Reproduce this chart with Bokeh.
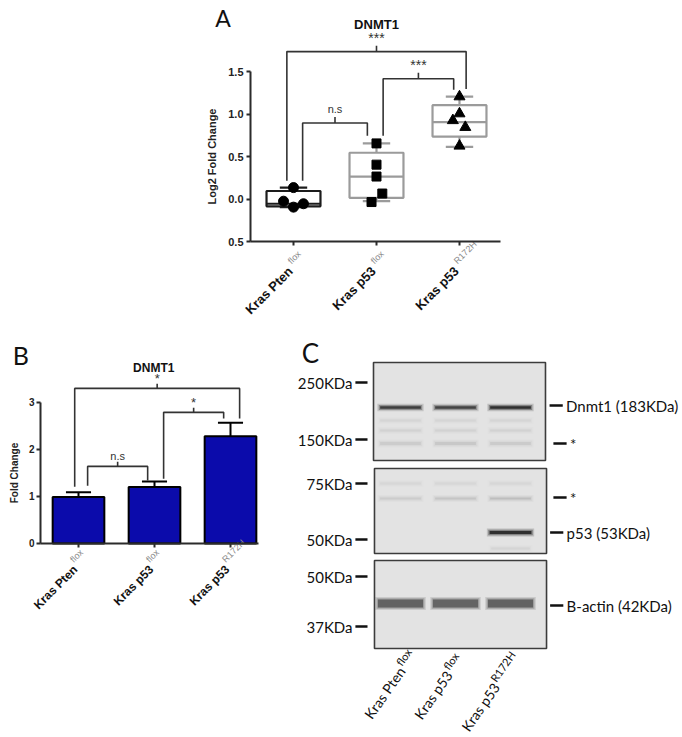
import math
from bokeh.plotting import figure
from bokeh.models import Range1d, FixedTicker, Spacer, LinearAxis, Grid
from bokeh.layouts import row, column
from bokeh.embed import file_html
from bokeh.resources import INLINE
from bokeh.core.properties import value

# ---------------- data ----------------
categories = ["Kras Pten", "Kras p53", "Kras p53"]
genotype_sup = ["flox", "flox", "R172H"]

# Panel A : Log2 fold change box plot
a_q1 = [-0.08, 0.02, 0.74]
a_median = [-0.05, 0.27, 0.91]
a_q3 = [0.10, 0.55, 1.11]
a_whisk_lo = [-0.09, -0.02, 0.62]
a_whisk_hi = [0.14, 0.66, 1.21]
a_points_pten = [0.14, -0.02, -0.09, -0.05]
a_points_p53flox = [0.66, 0.41, 0.27, 0.07, -0.03]
a_points_r172h = [1.21, 1.01, 0.93, 0.85, 0.63]
a_yticks = [-0.5, 0.0, 0.5, 1.0, 1.5]
a_ytick_labels = ["0.5", "0.0", "0.5", "1.0", "1.5"]
a_sig_labels = ["***", "n.s", "***"]
a_sig_from = [0, 0, 1]
a_sig_to = [2, 1, 2]
a_sig_height = [1.74, 0.90, 1.42]
a_sig_drop_left = [0.22, 0.22, 0.75]
a_sig_drop_right = [1.30, 0.75, 1.29]

# Panel B : fold change bar chart
b_mean = [0.99, 1.20, 2.28]
b_sem = [0.10, 0.12, 0.29]
b_yticks = [0, 1, 2, 3]
b_sig_labels = ["*", "*", "n.s"]
b_sig_from = [0, 1, 0]
b_sig_to = [2, 2, 1]
b_sig_height = [3.30, 2.79, 1.64]
b_sig_drop_left = [1.21, 1.38, 1.23]
b_sig_drop_right = [2.66, 2.66, 1.34]

# Panel C : western blot
lanes = [1, 2, 3]
marker_labels = ["250KDa", "150KDa", "75KDa", "50KDa", "50KDa", "37KDa"]
band_labels = ["Dnmt1 (183KDa)", "*", "*", "p53 (53KDa)", "B-actin (42KDa)"]
dnmt1_intensity = [0.85, 0.80, 0.97]
faint1_intensity = [0.05, 0.05, 0.05]
faint2_intensity = [0.06, 0.06, 0.06]
nonspec1_intensity = [0.08, 0.10, 0.09]
faint3_intensity = [0.04, 0.04, 0.04]
nonspec2_intensity = [0.08, 0.11, 0.14]
p53_intensity = [0.0, 0.0, 0.97]
p53_low_intensity = [0.0, 0.0, 0.05]
actin_intensity = [0.80, 0.78, 0.80]

# ---------------- styles / layout ----------------
ARIAL = "Liberation Sans"
CAL = "Lato"
AXC = "#2b2b2b"


def make_axis(loc, bounds, ticks, size, overrides=None, label=None, standoff=3, label_standoff=7):
    ax = LinearAxis(fixed_location=loc, bounds=bounds, ticker=FixedTicker(ticks=ticks))
    ax.axis_line_width = 2
    ax.axis_line_color = AXC
    ax.major_tick_line_width = 2
    ax.major_tick_line_color = AXC
    ax.major_tick_in = 0
    ax.major_tick_out = 4
    ax.minor_tick_line_color = None
    ax.major_label_text_font = ARIAL
    ax.major_label_text_font_style = "bold"
    ax.major_label_text_font_size = size
    ax.major_label_text_color = "#222"
    ax.major_label_standoff = standoff
    if overrides is not None:
        ax.major_label_overrides = overrides
    if label is not None:
        ax.axis_label = label
        ax.axis_label_text_font = ARIAL
        ax.axis_label_text_font_style = "bold"
        ax.axis_label_text_font_size = size
        ax.axis_label_text_color = "#222"
        ax.axis_label_standoff = label_standoff
    return ax


def base_fig(w, h, xr, yr):
    p = figure(width=w, height=h, x_range=Range1d(*xr), y_range=Range1d(*yr),
               output_backend="svg", toolbar_location=None, min_border=0,
               x_axis_location=None, y_axis_location=None)
    p.outline_line_color = None
    for r in list(p.center):
        if isinstance(r, Grid):
            r.visible = False
    return p


def brackets(p, frm, to, h, dl, dr, labels, inset_l, inset_r, tick, lab_off, sizes):
    xs, ys, cx, cy = [], [], [], []
    for i in range(len(frm)):
        xl = frm[i] + inset_l[i]
        xr = to[i] + inset_r[i]
        xs.append([xl, xl, xr, xr])
        ys.append([dl[i], h[i], h[i], dr[i]])
        c = (xl + xr) / 2
        xs.append([c, c])
        ys.append([h[i], h[i] + tick])
        cx.append(c)
        cy.append(h[i] + lab_off)
    p.multi_line(xs, ys, line_color="#333", line_width=1.6)
    p.text(x=cx, y=cy, text=labels, text_align="center", text_baseline="middle",
           text_font=value(ARIAL), text_font_size=sizes, text_color="#333")


idx = [0, 1, 2]

# ================= Panel A =================
pA = base_fig(330, 335, (-1.3614, 2.6145), (-1.6, 2.341))
pA.add_layout(make_axis(-0.518, (-0.5, 1.5), a_yticks, "11px",
                        overrides={t: l for t, l in zip(a_yticks, a_ytick_labels)},
                        label="Log2 Fold Change", standoff=3, label_standoff=7), "left")
pA.add_layout(make_axis(-0.5, (-0.518, 2.494), idx, "11px",
                        overrides={0: " ", 1: " ", 2: " "}), "below")

box_w = 0.65
cap_w = 0.33
box_colors = ["#1c1c1c", "#9b9b9b", "#9b9b9b"]
pA.quad(left=[i - box_w / 2 for i in idx], right=[i + box_w / 2 for i in idx],
        bottom=a_q1, top=a_q3, fill_color=None, line_color=box_colors, line_width=2.2)
pA.segment(x0=[i - box_w / 2 for i in idx], x1=[i + box_w / 2 for i in idx],
           y0=a_median, y1=a_median, line_color=box_colors, line_width=2.2)
pA.segment(x0=idx, x1=idx, y0=a_q3, y1=a_whisk_hi, line_color=box_colors, line_width=2.2)
pA.segment(x0=idx, x1=idx, y0=a_q1, y1=a_whisk_lo, line_color=box_colors, line_width=2.2)
pA.segment(x0=[i - cap_w / 2 for i in idx], x1=[i + cap_w / 2 for i in idx],
           y0=a_whisk_hi, y1=a_whisk_hi, line_color=box_colors, line_width=2.2)
pA.segment(x0=[i - cap_w / 2 for i in idx], x1=[i + cap_w / 2 for i in idx],
           y0=a_whisk_lo, y1=a_whisk_lo, line_color=box_colors, line_width=2.2)

jit_pten = [0.0, -0.12, 0.0, 0.12]
jit_flox = [0.0, 0.0, 0.0, 0.07, -0.06]
jit_r172 = [0.0, 0.0, -0.08, 0.07, 0.0]
pA.scatter([0 + j for j in jit_pten], a_points_pten, marker="circle", size=10, color="black")
pA.scatter([1 + j for j in jit_flox], a_points_p53flox, marker="square", size=9, color="black")
pA.scatter([2 + j for j in jit_r172], a_points_r172h, marker="triangle", size=11, color="black")

brackets(pA, a_sig_from, a_sig_to, a_sig_height, a_sig_drop_left, a_sig_drop_right,
         a_sig_labels, [-0.08, 0.11, 0.08], [0.08, -0.11, -0.07], 0.07, 0.16,
         ["14px", "11px", "14px"])

pA.text(x=[1.0], y=[2.06], text=["DNMT1"], text_align="center", text_baseline="middle",
        text_font=value(ARIAL), text_font_style="bold", text_font_size="13px", text_color="#111")
pA.text(x=[-0.85], y=[2.14], text=["A"], text_align="center", text_baseline="middle",
        text_font=value(CAL), text_font_size="23px", text_color="#111")

pA.text(x=[i - 0.036 for i in idx], y=[-0.818] * 3, text=categories, angle=math.pi / 4,
        text_align="right", text_baseline="middle", text_font=value(ARIAL),
        text_font_style="bold", text_font_size="13px", text_color="#111")
pA.text(x=[i - 0.05 for i in idx], y=[-0.74] * 3, text=genotype_sup, angle=math.pi / 4,
        text_align="left", text_baseline="middle", text_font=value(ARIAL),
        text_font_size="9px", text_color="#8a8a8a")

# ================= Panel B =================
pB = base_fig(270, 402, (-1.0263, 2.5263), (-4.1277, 4.4255))
pB.add_layout(make_axis(-0.5, (0, 3), b_yticks, "10px", label="Fold Change",
                        standoff=2, label_standoff=6), "left")
pB.add_layout(make_axis(0, (-0.5, 2.368), idx, "10px",
                        overrides={0: " ", 1: " ", 2: " "}), "below")

pB.vbar(x=idx, top=b_mean, bottom=0, width=0.68, fill_color="#0b0bab", line_color="black", line_width=2)
err_top = [m + s for m, s in zip(b_mean, b_sem)]
pB.segment(x0=idx, x1=idx, y0=b_mean, y1=err_top, line_color="black", line_width=2)
pB.segment(x0=[i - 0.165 for i in idx], x1=[i + 0.165 for i in idx], y0=err_top, y1=err_top,
           line_color="black", line_width=2)

brackets(pB, b_sig_from, b_sig_to, b_sig_height, b_sig_drop_left, b_sig_drop_right,
         b_sig_labels, [-0.05, 0.12, 0.12], [0.12, -0.09, -0.09], 0.1, 0.22,
         ["13px", "13px", "11px"])

pB.text(x=[0.99], y=[3.74], text=["DNMT1"], text_align="center", text_baseline="middle",
        text_font=value(ARIAL), text_font_style="bold", text_font_size="12px", text_color="#111")
pB.text(x=[-0.76], y=[4.02], text=["B"], text_align="center", text_baseline="middle",
        text_font=value(CAL), text_font_size="25px", text_color="#111")

pB.text(x=[i - 0.04 for i in idx], y=[-0.51] * 3, text=categories, angle=math.pi / 4,
        text_align="right", text_baseline="middle", text_font=value(ARIAL),
        text_font_style="bold", text_font_size="12px", text_color="#111")
pB.text(x=[i - 0.09 for i in idx], y=[-0.37] * 3, text=genotype_sup, angle=math.pi / 4,
        text_align="left", text_baseline="middle", text_font=value(ARIAL),
        text_font_size="9px", text_color="#8a8a8a")

# ================= Panel C =================
pC = base_fig(412, 402, (-1.3636, 6.127), (402, 0))

blot_left = [0.509, 0.527, 0.527]
blot_right = [3.636, 3.655, 3.655]
blot_top = [27, 133, 225]
blot_bottom = [125, 218, 313]
pC.quad(left=blot_left, right=blot_right, top=blot_top, bottom=blot_bottom,
        fill_color="#e3e3e3", line_color="#3c3c3c", line_width=1.6)


def bands(intens, row_y, h, w, color="#111111"):
    xs = [l for l, v in zip(lanes, intens) if v > 0]
    vs = [v for v in intens if v > 0]
    for grow, frac in [(5, 0.18), (2.5, 0.35), (0, 0.75)]:
        pC.rect(x=xs, y=[row_y] * len(xs), width=[w + 0.02 * grow] * len(xs), height=h + grow,
                fill_color=color, fill_alpha=[v * frac for v in vs], line_color=None)


bands(dnmt1_intensity, 72, 2.5, 0.74)
bands(faint1_intensity, 85, 2, 0.74)
bands(faint2_intensity, 95, 2, 0.74)
bands(nonspec1_intensity, 108, 3, 0.74)
bands(faint3_intensity, 148, 2, 0.74)
bands(nonspec2_intensity, 163, 2, 0.74)
bands(p53_intensity, 197, 3, 0.76)
bands(p53_low_intensity, 213, 2, 0.7)
bands(actin_intensity, 268, 8, 0.82, color="#383838")

marker_rows = [47, 104, 148, 204, 241, 291]
pC.text(x=[0.127] * 6, y=marker_rows, text=marker_labels, text_align="right",
        text_baseline="middle", text_font=value(CAL), text_font_size="15px", text_color="#111")
pC.segment(x0=[0.18] * 6, x1=[0.40] * 6, y0=marker_rows, y1=marker_rows,
           line_color="#111", line_width=2.5)

label_rows = [70, 108, 162, 197, 270]
dash_x0 = [3.71, 3.78, 3.78, 3.72, 3.72]
pC.segment(x0=dash_x0, x1=[d + 0.24 for d in dash_x0], y0=label_rows, y1=label_rows,
           line_color="#111", line_width=2.5)
pC.text(x=[d + 0.30 for d in dash_x0], y=label_rows, text=band_labels, text_align="left",
        text_baseline="middle", text_font=value(CAL), text_font_size="15px", text_color="#111")

pC.text(x=[-0.636], y=[17], text=["C"], text_align="center", text_baseline="middle",
        text_font=value(CAL), text_font_size="26px", text_color="#111")

ang = math.radians(55)
main_x = [1.02, 1.88, 2.74]
main_y = [333, 337, 349]
pC.text(x=main_x, y=main_y, text=categories, angle=ang, text_align="right", text_baseline="middle",
        text_font=value(CAL), text_font_size="14px", text_color="#111")
pC.text(x=[m - 0.06 for m in main_x], y=[m - 4 for m in main_y], text=genotype_sup, angle=ang,
        text_align="left", text_baseline="middle", text_font=value(CAL), text_font_size="11px",
        text_color="#111")

layout = column(row(Spacer(width=180, height=335), pA), row(pB, pC))
open("out.html", "w").write(file_html(layout, INLINE))
